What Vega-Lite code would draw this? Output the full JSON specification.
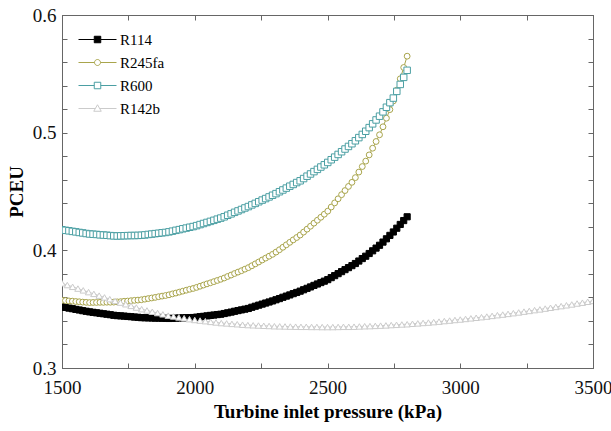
{
"$schema":"https://vega.github.io/schema/vega-lite/v6.json",
"width":531,"height":353,
"autosize":{"type":"none"},
"padding":{"left":62,"top":15,"right":18,"bottom":63},
"background":"white",
"config":{"view":{"stroke":"#666666","strokeWidth":1},"font":"Liberation Serif",
 "legend":{"orient":"none","legendX":28,"legendY":17,"title":null,"padding":0,"labelFont":"Liberation Serif","labelFontSize":15,"labelColor":"#000000","labelOffset":15,"rowPadding":7,"symbolSize":100,"symbolStrokeWidth":1,"symbolOpacity":1}},
"data":{"values":[
{"fluid":"R114","p":1500,"pceu":0.3520},{"fluid":"R114","p":1513,"pceu":0.3515},{"fluid":"R114","p":1526,"pceu":0.3509},{"fluid":"R114","p":1539,"pceu":0.3504},{"fluid":"R114","p":1552,"pceu":0.3498},{"fluid":"R114","p":1565,"pceu":0.3493},{"fluid":"R114","p":1578,"pceu":0.3487},{"fluid":"R114","p":1591,"pceu":0.3482},
{"fluid":"R114","p":1604,"pceu":0.3477},{"fluid":"R114","p":1617,"pceu":0.3473},{"fluid":"R114","p":1630,"pceu":0.3469},{"fluid":"R114","p":1643,"pceu":0.3465},{"fluid":"R114","p":1656,"pceu":0.3461},{"fluid":"R114","p":1669,"pceu":0.3457},{"fluid":"R114","p":1682,"pceu":0.3453},{"fluid":"R114","p":1695,"pceu":0.3448},
{"fluid":"R114","p":1708,"pceu":0.3445},{"fluid":"R114","p":1721,"pceu":0.3443},{"fluid":"R114","p":1734,"pceu":0.3441},{"fluid":"R114","p":1747,"pceu":0.3438},{"fluid":"R114","p":1760,"pceu":0.3436},{"fluid":"R114","p":1773,"pceu":0.3433},{"fluid":"R114","p":1786,"pceu":0.3431},{"fluid":"R114","p":1799,"pceu":0.3428},
{"fluid":"R114","p":1812,"pceu":0.3427},{"fluid":"R114","p":1825,"pceu":0.3426},{"fluid":"R114","p":1838,"pceu":0.3425},{"fluid":"R114","p":1851,"pceu":0.3424},{"fluid":"R114","p":1864,"pceu":0.3424},{"fluid":"R114","p":1877,"pceu":0.3423},{"fluid":"R114","p":1890,"pceu":0.3422},
{"fluid":"R114","p":1903,"pceu":0.3421},{"fluid":"R114","p":1916,"pceu":0.3422},{"fluid":"R114","p":1929,"pceu":0.3424},{"fluid":"R114","p":1942,"pceu":0.3425},{"fluid":"R114","p":1955,"pceu":0.3426},{"fluid":"R114","p":1968,"pceu":0.3427},{"fluid":"R114","p":1981,"pceu":0.3428},{"fluid":"R114","p":1994,"pceu":0.3429},
{"fluid":"R114","p":2007,"pceu":0.3432},{"fluid":"R114","p":2020,"pceu":0.3436},{"fluid":"R114","p":2033,"pceu":0.3439},{"fluid":"R114","p":2046,"pceu":0.3443},{"fluid":"R114","p":2059,"pceu":0.3447},{"fluid":"R114","p":2072,"pceu":0.3450},{"fluid":"R114","p":2085,"pceu":0.3454},{"fluid":"R114","p":2098,"pceu":0.3457},
{"fluid":"R114","p":2111,"pceu":0.3463},{"fluid":"R114","p":2124,"pceu":0.3469},{"fluid":"R114","p":2137,"pceu":0.3475},{"fluid":"R114","p":2150,"pceu":0.3482},{"fluid":"R114","p":2163,"pceu":0.3488},{"fluid":"R114","p":2176,"pceu":0.3494},{"fluid":"R114","p":2189,"pceu":0.3500},
{"fluid":"R114","p":2202,"pceu":0.3506},{"fluid":"R114","p":2215,"pceu":0.3516},{"fluid":"R114","p":2228,"pceu":0.3525},{"fluid":"R114","p":2241,"pceu":0.3534},{"fluid":"R114","p":2254,"pceu":0.3543},{"fluid":"R114","p":2267,"pceu":0.3552},{"fluid":"R114","p":2280,"pceu":0.3561},{"fluid":"R114","p":2293,"pceu":0.3570},
{"fluid":"R114","p":2306,"pceu":0.3580},{"fluid":"R114","p":2319,"pceu":0.3590},{"fluid":"R114","p":2332,"pceu":0.3601},{"fluid":"R114","p":2345,"pceu":0.3611},{"fluid":"R114","p":2358,"pceu":0.3621},{"fluid":"R114","p":2371,"pceu":0.3632},{"fluid":"R114","p":2384,"pceu":0.3642},{"fluid":"R114","p":2397,"pceu":0.3653},
{"fluid":"R114","p":2410,"pceu":0.3665},{"fluid":"R114","p":2423,"pceu":0.3677},{"fluid":"R114","p":2436,"pceu":0.3689},{"fluid":"R114","p":2449,"pceu":0.3702},{"fluid":"R114","p":2462,"pceu":0.3714},{"fluid":"R114","p":2475,"pceu":0.3726},{"fluid":"R114","p":2488,"pceu":0.3738},
{"fluid":"R114","p":2501,"pceu":0.3751},{"fluid":"R114","p":2514,"pceu":0.3768},{"fluid":"R114","p":2527,"pceu":0.3785},{"fluid":"R114","p":2540,"pceu":0.3802},{"fluid":"R114","p":2553,"pceu":0.3819},{"fluid":"R114","p":2566,"pceu":0.3836},{"fluid":"R114","p":2579,"pceu":0.3853},{"fluid":"R114","p":2592,"pceu":0.3870},
{"fluid":"R114","p":2605,"pceu":0.3888},{"fluid":"R114","p":2618,"pceu":0.3909},{"fluid":"R114","p":2631,"pceu":0.3930},{"fluid":"R114","p":2644,"pceu":0.3950},
{"fluid":"R114","p":2657,"pceu":0.3973},{"fluid":"R114","p":2670,"pceu":0.3996},{"fluid":"R114","p":2683,"pceu":0.4019},{"fluid":"R114","p":2696,"pceu":0.4043},
{"fluid":"R114","p":2709,"pceu":0.4070},{"fluid":"R114","p":2722,"pceu":0.4098},{"fluid":"R114","p":2735,"pceu":0.4127},{"fluid":"R114","p":2748,"pceu":0.4156},
{"fluid":"R114","p":2761,"pceu":0.4188},{"fluid":"R114","p":2774,"pceu":0.4220},{"fluid":"R114","p":2787,"pceu":0.4253},{"fluid":"R114","p":2800,"pceu":0.4285},
{"fluid":"R245fa","p":1500,"pceu":0.3575},{"fluid":"R245fa","p":1513,"pceu":0.3573},{"fluid":"R245fa","p":1526,"pceu":0.3570},{"fluid":"R245fa","p":1539,"pceu":0.3568},{"fluid":"R245fa","p":1552,"pceu":0.3565},{"fluid":"R245fa","p":1565,"pceu":0.3563},{"fluid":"R245fa","p":1578,"pceu":0.3560},{"fluid":"R245fa","p":1591,"pceu":0.3558},
{"fluid":"R245fa","p":1604,"pceu":0.3556},{"fluid":"R245fa","p":1617,"pceu":0.3557},{"fluid":"R245fa","p":1630,"pceu":0.3557},{"fluid":"R245fa","p":1643,"pceu":0.3558},{"fluid":"R245fa","p":1656,"pceu":0.3558},{"fluid":"R245fa","p":1669,"pceu":0.3559},{"fluid":"R245fa","p":1682,"pceu":0.3559},{"fluid":"R245fa","p":1695,"pceu":0.3560},
{"fluid":"R245fa","p":1708,"pceu":0.3562},{"fluid":"R245fa","p":1721,"pceu":0.3564},{"fluid":"R245fa","p":1734,"pceu":0.3567},{"fluid":"R245fa","p":1747,"pceu":0.3569},{"fluid":"R245fa","p":1760,"pceu":0.3572},{"fluid":"R245fa","p":1773,"pceu":0.3575},{"fluid":"R245fa","p":1786,"pceu":0.3577},{"fluid":"R245fa","p":1799,"pceu":0.3580},
{"fluid":"R245fa","p":1812,"pceu":0.3585},{"fluid":"R245fa","p":1825,"pceu":0.3590},{"fluid":"R245fa","p":1838,"pceu":0.3595},{"fluid":"R245fa","p":1851,"pceu":0.3600},{"fluid":"R245fa","p":1864,"pceu":0.3606},{"fluid":"R245fa","p":1877,"pceu":0.3611},{"fluid":"R245fa","p":1890,"pceu":0.3616},
{"fluid":"R245fa","p":1903,"pceu":0.3622},{"fluid":"R245fa","p":1916,"pceu":0.3630},{"fluid":"R245fa","p":1929,"pceu":0.3637},{"fluid":"R245fa","p":1942,"pceu":0.3645},{"fluid":"R245fa","p":1955,"pceu":0.3653},{"fluid":"R245fa","p":1968,"pceu":0.3661},{"fluid":"R245fa","p":1981,"pceu":0.3669},{"fluid":"R245fa","p":1994,"pceu":0.3676},
{"fluid":"R245fa","p":2007,"pceu":0.3685},{"fluid":"R245fa","p":2020,"pceu":0.3695},{"fluid":"R245fa","p":2033,"pceu":0.3705},{"fluid":"R245fa","p":2046,"pceu":0.3715},{"fluid":"R245fa","p":2059,"pceu":0.3724},{"fluid":"R245fa","p":2072,"pceu":0.3734},{"fluid":"R245fa","p":2085,"pceu":0.3744},{"fluid":"R245fa","p":2098,"pceu":0.3754},
{"fluid":"R245fa","p":2111,"pceu":0.3765},{"fluid":"R245fa","p":2124,"pceu":0.3778},{"fluid":"R245fa","p":2137,"pceu":0.3790},{"fluid":"R245fa","p":2150,"pceu":0.3803},{"fluid":"R245fa","p":2163,"pceu":0.3815},{"fluid":"R245fa","p":2176,"pceu":0.3827},{"fluid":"R245fa","p":2189,"pceu":0.3840},
{"fluid":"R245fa","p":2202,"pceu":0.3853},{"fluid":"R245fa","p":2215,"pceu":0.3869},{"fluid":"R245fa","p":2228,"pceu":0.3885},{"fluid":"R245fa","p":2241,"pceu":0.3901},{"fluid":"R245fa","p":2254,"pceu":0.3918},{"fluid":"R245fa","p":2267,"pceu":0.3934},{"fluid":"R245fa","p":2280,"pceu":0.3950},{"fluid":"R245fa","p":2293,"pceu":0.3966},
{"fluid":"R245fa","p":2306,"pceu":0.3985},{"fluid":"R245fa","p":2319,"pceu":0.4005},{"fluid":"R245fa","p":2332,"pceu":0.4026},{"fluid":"R245fa","p":2345,"pceu":0.4047},{"fluid":"R245fa","p":2358,"pceu":0.4068},{"fluid":"R245fa","p":2371,"pceu":0.4089},{"fluid":"R245fa","p":2384,"pceu":0.4109},{"fluid":"R245fa","p":2397,"pceu":0.4130},
{"fluid":"R245fa","p":2410,"pceu":0.4155},{"fluid":"R245fa","p":2423,"pceu":0.4180},{"fluid":"R245fa","p":2436,"pceu":0.4205},{"fluid":"R245fa","p":2449,"pceu":0.4231},{"fluid":"R245fa","p":2462,"pceu":0.4256},{"fluid":"R245fa","p":2475,"pceu":0.4281},{"fluid":"R245fa","p":2488,"pceu":0.4307},
{"fluid":"R245fa","p":2501,"pceu":0.4333},{"fluid":"R245fa","p":2514,"pceu":0.4368},{"fluid":"R245fa","p":2527,"pceu":0.4403},{"fluid":"R245fa","p":2540,"pceu":0.4438},{"fluid":"R245fa","p":2553,"pceu":0.4473},{"fluid":"R245fa","p":2566,"pceu":0.4508},{"fluid":"R245fa","p":2579,"pceu":0.4543},{"fluid":"R245fa","p":2592,"pceu":0.4578},
{"fluid":"R245fa","p":2605,"pceu":0.4618},{"fluid":"R245fa","p":2618,"pceu":0.4665},{"fluid":"R245fa","p":2631,"pceu":0.4712},{"fluid":"R245fa","p":2644,"pceu":0.4758},
{"fluid":"R245fa","p":2657,"pceu":0.4811},{"fluid":"R245fa","p":2670,"pceu":0.4868},{"fluid":"R245fa","p":2683,"pceu":0.4925},{"fluid":"R245fa","p":2696,"pceu":0.4982},
{"fluid":"R245fa","p":2709,"pceu":0.5050},{"fluid":"R245fa","p":2722,"pceu":0.5123},{"fluid":"R245fa","p":2735,"pceu":0.5196},{"fluid":"R245fa","p":2748,"pceu":0.5269},
{"fluid":"R245fa","p":2761,"pceu":0.5361},{"fluid":"R245fa","p":2774,"pceu":0.5458},{"fluid":"R245fa","p":2787,"pceu":0.5554},{"fluid":"R245fa","p":2800,"pceu":0.5650},
{"fluid":"R600","p":1500,"pceu":0.4175},{"fluid":"R600","p":1513,"pceu":0.4170},{"fluid":"R600","p":1526,"pceu":0.4166},{"fluid":"R600","p":1539,"pceu":0.4161},{"fluid":"R600","p":1552,"pceu":0.4157},{"fluid":"R600","p":1565,"pceu":0.4152},{"fluid":"R600","p":1578,"pceu":0.4148},{"fluid":"R600","p":1591,"pceu":0.4143},
{"fluid":"R600","p":1604,"pceu":0.4139},{"fluid":"R600","p":1617,"pceu":0.4137},{"fluid":"R600","p":1630,"pceu":0.4135},{"fluid":"R600","p":1643,"pceu":0.4132},{"fluid":"R600","p":1656,"pceu":0.4130},{"fluid":"R600","p":1669,"pceu":0.4128},{"fluid":"R600","p":1682,"pceu":0.4125},{"fluid":"R600","p":1695,"pceu":0.4123},
{"fluid":"R600","p":1708,"pceu":0.4122},{"fluid":"R600","p":1721,"pceu":0.4123},{"fluid":"R600","p":1734,"pceu":0.4124},{"fluid":"R600","p":1747,"pceu":0.4125},{"fluid":"R600","p":1760,"pceu":0.4126},{"fluid":"R600","p":1773,"pceu":0.4126},{"fluid":"R600","p":1786,"pceu":0.4127},{"fluid":"R600","p":1799,"pceu":0.4128},
{"fluid":"R600","p":1812,"pceu":0.4131},{"fluid":"R600","p":1825,"pceu":0.4135},{"fluid":"R600","p":1838,"pceu":0.4138},{"fluid":"R600","p":1851,"pceu":0.4142},{"fluid":"R600","p":1864,"pceu":0.4145},{"fluid":"R600","p":1877,"pceu":0.4149},{"fluid":"R600","p":1890,"pceu":0.4152},
{"fluid":"R600","p":1903,"pceu":0.4157},{"fluid":"R600","p":1916,"pceu":0.4163},{"fluid":"R600","p":1929,"pceu":0.4170},{"fluid":"R600","p":1942,"pceu":0.4176},{"fluid":"R600","p":1955,"pceu":0.4183},{"fluid":"R600","p":1968,"pceu":0.4189},{"fluid":"R600","p":1981,"pceu":0.4196},{"fluid":"R600","p":1994,"pceu":0.4202},
{"fluid":"R600","p":2007,"pceu":0.4210},{"fluid":"R600","p":2020,"pceu":0.4219},{"fluid":"R600","p":2033,"pceu":0.4228},{"fluid":"R600","p":2046,"pceu":0.4237},{"fluid":"R600","p":2059,"pceu":0.4246},{"fluid":"R600","p":2072,"pceu":0.4255},{"fluid":"R600","p":2085,"pceu":0.4265},{"fluid":"R600","p":2098,"pceu":0.4274},
{"fluid":"R600","p":2111,"pceu":0.4285},{"fluid":"R600","p":2124,"pceu":0.4298},{"fluid":"R600","p":2137,"pceu":0.4310},{"fluid":"R600","p":2150,"pceu":0.4323},{"fluid":"R600","p":2163,"pceu":0.4335},{"fluid":"R600","p":2176,"pceu":0.4347},{"fluid":"R600","p":2189,"pceu":0.4360},
{"fluid":"R600","p":2202,"pceu":0.4372},{"fluid":"R600","p":2215,"pceu":0.4386},{"fluid":"R600","p":2228,"pceu":0.4399},{"fluid":"R600","p":2241,"pceu":0.4413},{"fluid":"R600","p":2254,"pceu":0.4427},{"fluid":"R600","p":2267,"pceu":0.4440},{"fluid":"R600","p":2280,"pceu":0.4454},{"fluid":"R600","p":2293,"pceu":0.4468},
{"fluid":"R600","p":2306,"pceu":0.4482},{"fluid":"R600","p":2319,"pceu":0.4498},{"fluid":"R600","p":2332,"pceu":0.4513},{"fluid":"R600","p":2345,"pceu":0.4529},{"fluid":"R600","p":2358,"pceu":0.4545},{"fluid":"R600","p":2371,"pceu":0.4560},{"fluid":"R600","p":2384,"pceu":0.4576},{"fluid":"R600","p":2397,"pceu":0.4591},
{"fluid":"R600","p":2410,"pceu":0.4610},{"fluid":"R600","p":2423,"pceu":0.4630},{"fluid":"R600","p":2436,"pceu":0.4649},{"fluid":"R600","p":2449,"pceu":0.4669},{"fluid":"R600","p":2462,"pceu":0.4688},{"fluid":"R600","p":2475,"pceu":0.4708},{"fluid":"R600","p":2488,"pceu":0.4727},
{"fluid":"R600","p":2501,"pceu":0.4747},{"fluid":"R600","p":2514,"pceu":0.4770},{"fluid":"R600","p":2527,"pceu":0.4792},{"fluid":"R600","p":2540,"pceu":0.4815},{"fluid":"R600","p":2553,"pceu":0.4838},{"fluid":"R600","p":2566,"pceu":0.4861},{"fluid":"R600","p":2579,"pceu":0.4883},{"fluid":"R600","p":2592,"pceu":0.4906},
{"fluid":"R600","p":2605,"pceu":0.4931},{"fluid":"R600","p":2618,"pceu":0.4958},{"fluid":"R600","p":2631,"pceu":0.4985},{"fluid":"R600","p":2644,"pceu":0.5012},
{"fluid":"R600","p":2657,"pceu":0.5043},{"fluid":"R600","p":2670,"pceu":0.5075},{"fluid":"R600","p":2683,"pceu":0.5108},{"fluid":"R600","p":2696,"pceu":0.5140},
{"fluid":"R600","p":2709,"pceu":0.5177},{"fluid":"R600","p":2722,"pceu":0.5216},{"fluid":"R600","p":2735,"pceu":0.5255},{"fluid":"R600","p":2748,"pceu":0.5294},
{"fluid":"R600","p":2761,"pceu":0.5351},{"fluid":"R600","p":2774,"pceu":0.5410},{"fluid":"R600","p":2787,"pceu":0.5470},{"fluid":"R600","p":2800,"pceu":0.5530},
{"fluid":"R142b","p":1500,"pceu":0.3720},{"fluid":"R142b","p":1520,"pceu":0.3705},{"fluid":"R142b","p":1540,"pceu":0.3690},{"fluid":"R142b","p":1560,"pceu":0.3675},{"fluid":"R142b","p":1580,"pceu":0.3660},
{"fluid":"R142b","p":1600,"pceu":0.3645},{"fluid":"R142b","p":1620,"pceu":0.3630},{"fluid":"R142b","p":1640,"pceu":0.3615},{"fluid":"R142b","p":1660,"pceu":0.3600},{"fluid":"R142b","p":1680,"pceu":0.3585},
{"fluid":"R142b","p":1700,"pceu":0.3570},{"fluid":"R142b","p":1720,"pceu":0.3556},{"fluid":"R142b","p":1740,"pceu":0.3542},{"fluid":"R142b","p":1760,"pceu":0.3528},{"fluid":"R142b","p":1780,"pceu":0.3514},
{"fluid":"R142b","p":1800,"pceu":0.3500},{"fluid":"R142b","p":1820,"pceu":0.3489},{"fluid":"R142b","p":1840,"pceu":0.3478},{"fluid":"R142b","p":1860,"pceu":0.3467},{"fluid":"R142b","p":1880,"pceu":0.3456},
{"fluid":"R142b","p":1900,"pceu":0.3445},{"fluid":"R142b","p":1920,"pceu":0.3438},{"fluid":"R142b","p":1940,"pceu":0.3430},{"fluid":"R142b","p":1960,"pceu":0.3423},{"fluid":"R142b","p":1980,"pceu":0.3415},
{"fluid":"R142b","p":2000,"pceu":0.3408},{"fluid":"R142b","p":2020,"pceu":0.3403},{"fluid":"R142b","p":2040,"pceu":0.3398},{"fluid":"R142b","p":2060,"pceu":0.3392},{"fluid":"R142b","p":2080,"pceu":0.3387},
{"fluid":"R142b","p":2100,"pceu":0.3382},{"fluid":"R142b","p":2120,"pceu":0.3379},{"fluid":"R142b","p":2140,"pceu":0.3375},{"fluid":"R142b","p":2160,"pceu":0.3372},{"fluid":"R142b","p":2180,"pceu":0.3368},
{"fluid":"R142b","p":2200,"pceu":0.3365},{"fluid":"R142b","p":2220,"pceu":0.3363},{"fluid":"R142b","p":2240,"pceu":0.3361},{"fluid":"R142b","p":2260,"pceu":0.3359},{"fluid":"R142b","p":2280,"pceu":0.3357},
{"fluid":"R142b","p":2300,"pceu":0.3355},{"fluid":"R142b","p":2320,"pceu":0.3354},{"fluid":"R142b","p":2340,"pceu":0.3353},{"fluid":"R142b","p":2360,"pceu":0.3352},{"fluid":"R142b","p":2380,"pceu":0.3351},
{"fluid":"R142b","p":2400,"pceu":0.3350},{"fluid":"R142b","p":2420,"pceu":0.3350},{"fluid":"R142b","p":2440,"pceu":0.3349},{"fluid":"R142b","p":2460,"pceu":0.3349},{"fluid":"R142b","p":2480,"pceu":0.3348},
{"fluid":"R142b","p":2500,"pceu":0.3348},{"fluid":"R142b","p":2520,"pceu":0.3348},{"fluid":"R142b","p":2540,"pceu":0.3349},{"fluid":"R142b","p":2560,"pceu":0.3350},{"fluid":"R142b","p":2580,"pceu":0.3350},
{"fluid":"R142b","p":2600,"pceu":0.3351},{"fluid":"R142b","p":2620,"pceu":0.3353},{"fluid":"R142b","p":2640,"pceu":0.3355},{"fluid":"R142b","p":2660,"pceu":0.3356},{"fluid":"R142b","p":2680,"pceu":0.3358},
{"fluid":"R142b","p":2700,"pceu":0.3360},{"fluid":"R142b","p":2720,"pceu":0.3362},{"fluid":"R142b","p":2740,"pceu":0.3365},{"fluid":"R142b","p":2760,"pceu":0.3367},{"fluid":"R142b","p":2780,"pceu":0.3370},
{"fluid":"R142b","p":2800,"pceu":0.3372},{"fluid":"R142b","p":2820,"pceu":0.3376},{"fluid":"R142b","p":2840,"pceu":0.3379},{"fluid":"R142b","p":2860,"pceu":0.3383},{"fluid":"R142b","p":2880,"pceu":0.3386},
{"fluid":"R142b","p":2900,"pceu":0.3390},{"fluid":"R142b","p":2920,"pceu":0.3394},{"fluid":"R142b","p":2940,"pceu":0.3399},{"fluid":"R142b","p":2960,"pceu":0.3403},{"fluid":"R142b","p":2980,"pceu":0.3408},
{"fluid":"R142b","p":3000,"pceu":0.3412},{"fluid":"R142b","p":3020,"pceu":0.3417},{"fluid":"R142b","p":3040,"pceu":0.3422},{"fluid":"R142b","p":3060,"pceu":0.3427},{"fluid":"R142b","p":3080,"pceu":0.3432},
{"fluid":"R142b","p":3100,"pceu":0.3437},{"fluid":"R142b","p":3120,"pceu":0.3443},{"fluid":"R142b","p":3140,"pceu":0.3449},{"fluid":"R142b","p":3160,"pceu":0.3454},{"fluid":"R142b","p":3180,"pceu":0.3460},
{"fluid":"R142b","p":3200,"pceu":0.3466},{"fluid":"R142b","p":3220,"pceu":0.3472},{"fluid":"R142b","p":3240,"pceu":0.3479},{"fluid":"R142b","p":3260,"pceu":0.3485},{"fluid":"R142b","p":3280,"pceu":0.3492},
{"fluid":"R142b","p":3300,"pceu":0.3498},{"fluid":"R142b","p":3320,"pceu":0.3505},{"fluid":"R142b","p":3340,"pceu":0.3512},{"fluid":"R142b","p":3360,"pceu":0.3519},{"fluid":"R142b","p":3380,"pceu":0.3526},
{"fluid":"R142b","p":3400,"pceu":0.3533},{"fluid":"R142b","p":3420,"pceu":0.3540},{"fluid":"R142b","p":3440,"pceu":0.3548},{"fluid":"R142b","p":3460,"pceu":0.3555},{"fluid":"R142b","p":3480,"pceu":0.3563},
{"fluid":"R142b","p":3500,"pceu":0.3570}
]},
"layer":[
{"mark":{"type":"line","strokeWidth":1,"clip":true},
 "encoding":{
  "x":{"field":"p","type":"quantitative","scale":{"domain":[1500,3500],"nice":false,"zero":false},
   "axis":{"orient":"bottom","values":[1500,1750,2000,2250,2500,2750,3000,3250,3500],"format":"d","labelExpr":"datum.value % 500 === 0 ? datum.label : ''","tickSize":-5,"tickColor":"#666666","domainColor":"#666666","labelFont":"Liberation Serif","labelFontSize":19,"labelColor":"#111111","labelPadding":15,"labelFlush":false,"labelOverlap":false,"labelBound":false,"grid":false,"title":"Turbine inlet pressure (kPa)","titleFont":"Liberation Serif","titleFontSize":19,"titleFontWeight":"bold","titleColor":"#000000","titlePadding":5}},
  "y":{"field":"pceu","type":"quantitative","scale":{"domain":[0.3,0.6],"nice":false,"zero":false},
   "axis":{"orient":"left","values":[0.3,0.32,0.34,0.36,0.38,0.4,0.42,0.44,0.46,0.48,0.5,0.52,0.54,0.56,0.58,0.6],"labelExpr":"abs(datum.value*10 - round(datum.value*10)) < 0.001 ? format(datum.value, '.1f') : ''","tickSize":-5,"tickColor":"#666666","domainColor":"#666666","labelFont":"Liberation Serif","labelFontSize":19,"labelColor":"#111111","labelPadding":11,"labelFlush":false,"labelOverlap":false,"labelBound":false,"grid":false,"title":"PCEU","titleFont":"Liberation Serif","titleFontSize":19,"titleFontWeight":"bold","titleColor":"#000000","titlePadding":6}},
  "stroke":{"field":"fluid","type":"nominal","scale":{"domain":["R114","R245fa","R600","R142b"],"range":["#000000","#a9a54c","#4b9fa3","#cbcbcb"]}}
 }},
{"transform":[{"filter":"datum.fluid === 'R114'"}],
 "mark":{"type":"point","shape":"square","filled":true,"fill":"#000000","stroke":"#000000","strokeWidth":1,"opacity":1,"size":38,"clip":true},
 "encoding":{
  "x":{"field":"p","type":"quantitative","axis":{"orient":"top","values":[1500,1750,2000,2250,2500,2750,3000,3250,3500],"labels":false,"tickSize":-5,"tickColor":"#666666","domainColor":"#666666","grid":false,"title":null}},
  "y":{"field":"pceu","type":"quantitative","axis":{"orient":"right","values":[0.3,0.32,0.34,0.36,0.38,0.4,0.42,0.44,0.46,0.48,0.5,0.52,0.54,0.56,0.58,0.6],"labels":false,"tickSize":-5,"tickColor":"#666666","domainColor":"#666666","grid":false,"title":null}}
 }},
{"transform":[{"filter":"datum.fluid === 'R245fa'"}],
 "mark":{"type":"point","shape":"circle","filled":true,"fill":"#ffffff","stroke":"#a9a54c","strokeWidth":1,"opacity":1,"size":34,"clip":true},
 "encoding":{
  "x":{"field":"p","type":"quantitative","axis":null},
  "y":{"field":"pceu","type":"quantitative","axis":null}
 }},
{"transform":[{"filter":"datum.fluid === 'R600'"}],
 "mark":{"type":"point","shape":"square","filled":true,"fill":"#ffffff","stroke":"#4b9fa3","strokeWidth":1,"opacity":1,"size":42,"clip":true},
 "encoding":{
  "x":{"field":"p","type":"quantitative","axis":null},
  "y":{"field":"pceu","type":"quantitative","axis":null}
 }},
{"transform":[{"filter":"datum.fluid === 'R142b'"}],
 "mark":{"type":"point","shape":"triangle-up","filled":true,"fill":"#ffffff","stroke":"#cbcbcb","strokeWidth":1,"opacity":1,"size":40,"clip":true},
 "encoding":{
  "x":{"field":"p","type":"quantitative","axis":null},
  "y":{"field":"pceu","type":"quantitative","axis":null}
 }},
{"transform":[{"filter":"datum.p < 0"}],
 "mark":{"type":"point","filled":true,"strokeWidth":1,"opacity":1},
 "encoding":{
  "x":{"field":"p","type":"quantitative","axis":null},
  "y":{"field":"pceu","type":"quantitative","axis":null},
  "stroke":{"field":"fluid","type":"nominal"},
  "fill":{"field":"fluid","type":"nominal","scale":{"domain":["R114","R245fa","R600","R142b"],"range":["#000000","#ffffff","#ffffff","#ffffff"]}},
  "shape":{"field":"fluid","type":"nominal","scale":{"domain":["R114","R245fa","R600","R142b"],"range":["M-3.8,0H-0.65M0.65,0H3.8M-0.65,-0.65H0.65V0.65H-0.65Z","M-3.8,0H-0.6M0.6,0H3.8M-0.6,0A0.6,0.6,0,1,0,0.6,0A0.6,0.6,0,1,0,-0.6,0Z","M-3.8,0H-0.65M0.65,0H3.8M-0.65,-0.65H0.65V0.65H-0.65Z","M-3.8,0H-0.42M0.42,0H3.8M0,-0.75L0.75,0.55H-0.75Z"]}}
 }}
],
"resolve":{"axis":{"x":"independent","y":"independent"}}
}
